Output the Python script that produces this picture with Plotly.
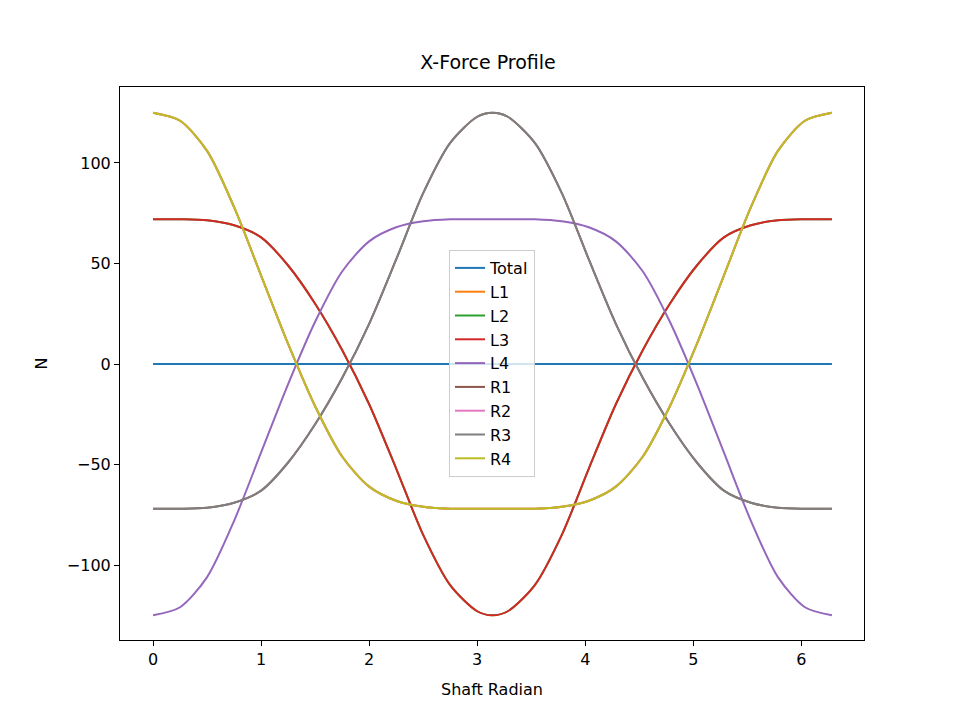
import plotly.graph_objects as go

x = [0, 0.25, 0.5, 0.75, 1.0, 1.25, 1.5, 1.75, 2.0, 2.25, 2.5, 2.75, 3.0, 3.1416,
     3.2832, 3.5332, 3.7832, 4.0332, 4.2832, 4.5332, 4.7832, 5.0332, 5.2832, 5.5332, 5.7832, 6.0332, 6.2832]
total = [0]*27
l3 = [72, 72, 71.5, 69, 63, 49, 30, 7, -20, -52, -85, -110, -123, -125,
      -123, -110, -85, -52, -20, 7, 30, 49, 63, 69, 71.5, 72, 72]
r4 = [125, 121, 106, 78, 44, 10, -21, -46, -61, -68, -71, -72, -72, -72,
      -72, -72, -71, -68, -61, -46, -21, 10, 44, 78, 106, 121, 125]
l4 = [-v for v in r4]
r3 = [-v for v in l3]
l1 = r4
l2 = l3
r1 = r3
r2 = r4

names = ["Total", "L1", "L2", "L3", "L4", "R1", "R2", "R3", "R4"]
series = [total, l1, l2, l3, l4, r1, r2, r3, r4]
colors = ["#1f77b4", "#ff7f0e", "#2ca02c", "#d62728", "#9467bd", "#8c564b", "#e377c2", "#7f7f7f", "#bcbd22"]

fig = go.Figure()
for n, s, c in zip(names, series, colors):
    fig.add_trace(go.Scatter(x=x, y=s, name=n, mode="lines",
                             line=dict(color=c, width=2, shape="spline", smoothing=0.8)))

ax = dict(showgrid=False, zeroline=False, showline=True, linecolor="black", mirror=True,
          ticks="outside", tickcolor="black", ticklen=5, tickfont=dict(size=16, color="black"))
fig.update_layout(
    width=960, height=720, plot_bgcolor="white", paper_bgcolor="white",
    font=dict(family="DejaVu Sans", color="black"),
    margin=dict(l=112, r=104, t=79, b=88),
    title=dict(text="X-Force Profile", x=0.5, xanchor="center", y=0.915, yanchor="bottom", font=dict(size=19)),
    xaxis=dict(range=[-0.306, 6.58], tickvals=[0, 1, 2, 3, 4, 5, 6], title=dict(text="Shaft Radian", font=dict(size=16)), **ax),
    yaxis=dict(range=[-137.3, 137.8], tickvals=[-100, -50, 0, 50, 100],
               ticktext=["\u2212100", "\u221250", "0", "50", "100"], title=dict(text="N", font=dict(size=16)), **ax),
    legend=dict(x=0.5, y=0.5, xanchor="center", yanchor="middle", bgcolor="rgba(255,255,255,0.8)",
                bordercolor="#cccccc", borderwidth=1, font=dict(size=16), tracegroupgap=4),
)
fig.write_html("out.html")
